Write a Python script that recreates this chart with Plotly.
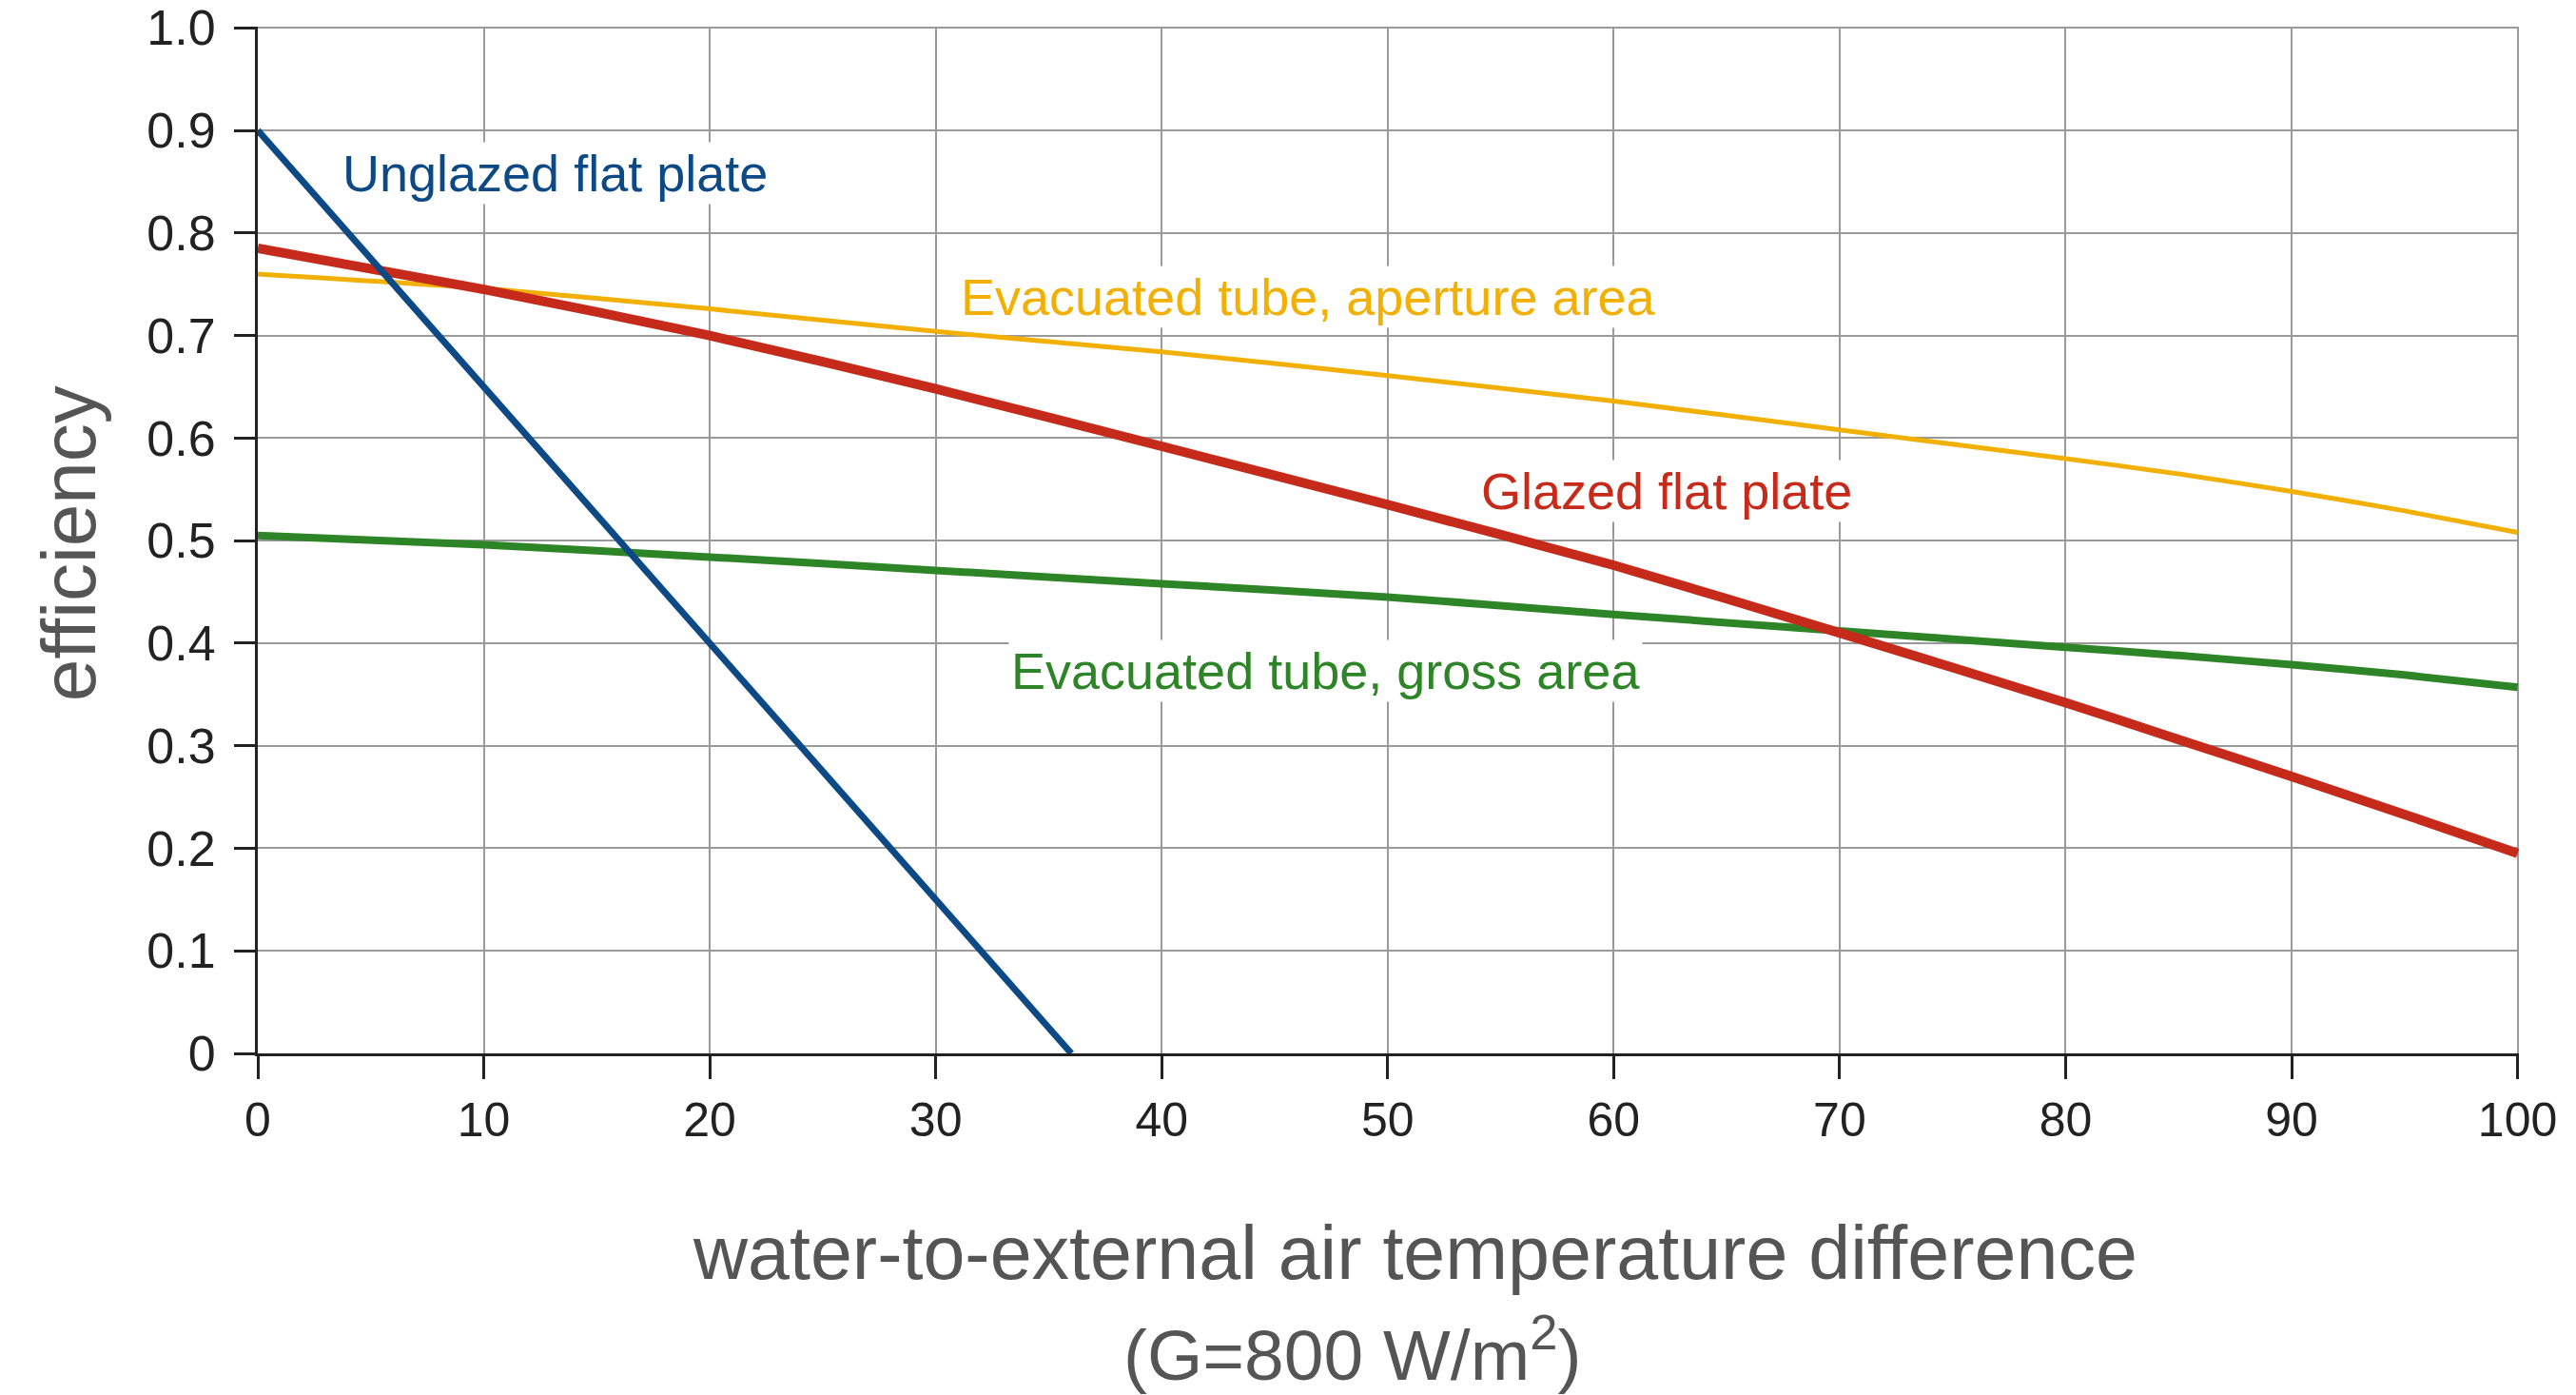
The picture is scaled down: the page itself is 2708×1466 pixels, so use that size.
import plotly.graph_objects as go

# ---- data ----
x_unglazed = [0, 36]
eff_unglazed = [0.90, 0.0]

x_curve = [0, 10, 20, 30, 40, 50, 60, 70, 80, 85, 90, 95, 100]
eff_glazed = [0.785, 0.745, 0.700, 0.648, 0.592, 0.535, 0.476, 0.410, 0.342, 0.306, 0.270, 0.233, 0.195]
eff_evac_aperture = [0.760, 0.746, 0.726, 0.704, 0.684, 0.661, 0.636, 0.608, 0.580, 0.565, 0.548, 0.529, 0.508]
eff_evac_gross = [0.505, 0.496, 0.484, 0.471, 0.458, 0.445, 0.428, 0.412, 0.396, 0.388, 0.379, 0.369, 0.357]

x_ticks = [0, 10, 20, 30, 40, 50, 60, 70, 80, 90, 100]
y_ticks = [0, 0.1, 0.2, 0.3, 0.4, 0.5, 0.6, 0.7, 0.8, 0.9, 1.0]
y_ticktext = ["0", "0.1", "0.2", "0.3", "0.4", "0.5", "0.6", "0.7", "0.8", "0.9", "1.0"]

labels = ["Unglazed flat plate", "Evacuated tube, aperture area",
          "Glazed flat plate", "Evacuated tube, gross area"]
label_x = [3.6, 31.0, 54.0, 33.2]
label_y = [0.858, 0.738, 0.548, 0.373]

BLUE = "#0d4a85"
ORANGE = "#f2b005"
RED = "#c62a1a"
GREEN = "#2e8527"

FONT = "Liberation Sans, Arial, sans-serif"

fig = go.Figure()
fig.add_trace(go.Scatter(x=x_curve, y=eff_evac_aperture, mode="lines",
                         line=dict(color=ORANGE, width=5, shape="spline", smoothing=0.6), showlegend=False))
fig.add_trace(go.Scatter(x=x_curve, y=eff_evac_gross, mode="lines",
                         line=dict(color=GREEN, width=8, shape="spline", smoothing=0.6), showlegend=False))
fig.add_trace(go.Scatter(x=x_curve, y=eff_glazed, mode="lines",
                         line=dict(color=RED, width=10, shape="spline", smoothing=0.6), showlegend=False))
fig.add_trace(go.Scatter(x=x_unglazed, y=eff_unglazed, mode="lines",
                         line=dict(color=BLUE, width=7), showlegend=False))

colors = [BLUE, ORANGE, RED, GREEN]
for t, lx, ly, c in zip(labels, label_x, label_y, colors):
    fig.add_annotation(x=lx, y=ly, text=t, showarrow=False, xanchor="left", yanchor="middle",
                       font=dict(family=FONT, size=54, color=c), bgcolor="white", borderpad=2)

fig.add_annotation(xref="paper", yref="paper", x=0.5116, y=-0.194,
                   text="water-to-external air temperature difference",
                   showarrow=False, xanchor="center", yanchor="middle",
                   font=dict(family=FONT, size=79, color="#555555"))
fig.add_annotation(xref="paper", yref="paper", x=0.484, y=-0.288, text="(G=800 W/m<sup>2</sup>)",
                   showarrow=False, xanchor="center", yanchor="middle",
                   font=dict(family=FONT, size=75, color="#555555"))
fig.add_annotation(xref="paper", yref="paper", x=-0.0835, y=0.496, text="efficiency", textangle=-90,
                   showarrow=False, xanchor="center", yanchor="middle",
                   font=dict(family=FONT, size=80, color="#555555"))

fig.update_xaxes(range=[0, 100.06], tickvals=x_ticks, ticktext=[str(v) for v in x_ticks],
                 showgrid=True, gridcolor="#9a9a9a", gridwidth=2,
                 showline=True, linecolor="#222222", linewidth=3,
                 ticks="outside", ticklen=24, tickwidth=3, tickcolor="#222222",
                 tickfont=dict(family=FONT, size=50, color="#222222"),
                 ticklabeloverflow="allow", automargin=False, zeroline=False, mirror=False)
fig.update_yaxes(range=[0, 1.0012], tickvals=y_ticks, ticktext=y_ticktext,
                 showgrid=True, gridcolor="#9a9a9a", gridwidth=2,
                 showline=True, linecolor="#222222", linewidth=3,
                 ticks="outside", ticklen=22, tickwidth=3, tickcolor="#222222",
                 tickfont=dict(family=FONT, size=52, color="#222222"),
                 ticklabelstandoff=9, ticklabeloverflow="allow", automargin=False, zeroline=False)

# the page body adds an 8px offset; the figure is sized so the plot area lands where the reference has it
fig.update_layout(width=2700, height=1458, plot_bgcolor="white", paper_bgcolor="white",
                  margin=dict(l=263, r=60, t=20, b=359))

fig.write_html("out.html")
